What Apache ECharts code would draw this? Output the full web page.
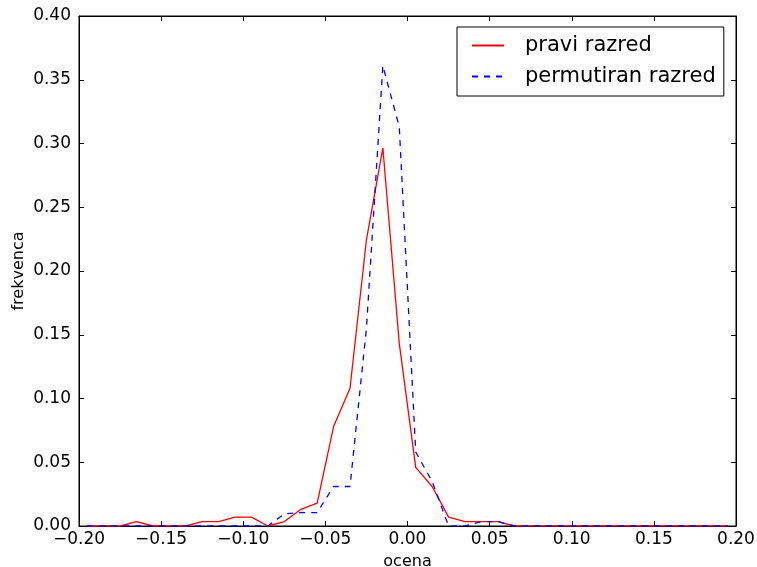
<!DOCTYPE html>
<html>
<head>
<meta charset="utf-8">
<script src="https://cdn.jsdelivr.net/npm/echarts@6/dist/echarts.min.js"></script>
<style>html,body{margin:0;padding:0;background:#fff;}#c{width:757px;height:567px;}</style>
</head>
<body>
<div id="c"></div>
<script>
// bin centres (ocena)
var binCenters = [-0.195,-0.185,-0.175,-0.165,-0.155,-0.145,-0.135,-0.125,-0.115,-0.105,
  -0.095,-0.085,-0.075,-0.065,-0.055,-0.045,-0.035,-0.025,-0.015,-0.005,
  0.005,0.015,0.025,0.035,0.045,0.055,0.065,0.075,0.085,0.095,
  0.105,0.115,0.125,0.135,0.145,0.155,0.165,0.175,0.185,0.195];
var praviRazred = [0,0,0,0.0035,0,0,0,0.0035,0.0035,0.007,
  0.007,0,0.0035,0.013,0.018,0.078,0.108,0.2245,0.2965,0.143,
  0.046,0.031,0.007,0.0035,0.0035,0.0035,0,0,0,0,
  0,0,0,0,0,0,0,0,0,0];
var permutiranRazred = [0,0,0,0,0,0,0,0,0,0,
  0,0,0.0095,0.0105,0.0105,0.031,0.031,0.155,0.361,0.313,
  0.058,0.035,0,0,0.0035,0.0035,0,0,0,0,
  0,0,0,0,0,0,0,0,0,0];
var seriesNames = ['pravi razred', 'permutiran razred'];
var xTicks = {min:-0.2, max:0.2, interval:0.05};
var yTicks = {min:0, max:0.4, interval:0.05};

function pairs(xs, ys){ return xs.map(function(x,i){ return [x, ys[i]]; }); }
function fmt(v){ var s = Math.abs(v).toFixed(2); return (v < -1e-9 ? '\u2212' : '') + s; }

var font = 'DejaVu Sans';
var chart = echarts.init(document.getElementById('c'), null, {renderer:'canvas'});
function axisCommon(){
  return {
    axisLine:{show:true, onZero:false, lineStyle:{color:'#000', width:1}},
    axisTick:{show:true, inside:true, length:5, lineStyle:{color:'#000', width:1}},
    splitLine:{show:false}
  };
}
chart.setOption({
  animation:false,
  backgroundColor:'#fff',
  grid:{left:79, right:21, top:16, bottom:41, show:true, borderColor:'#000', borderWidth:1,
    containLabel:false, outerBoundsMode:'none'},
  legend:{
    orient:'vertical', left:457, top:27,
    data:seriesNames,
    backgroundColor:'#fff', borderColor:'#000', borderWidth:1, borderRadius:0,
    padding:[8,8,9,14], itemGap:10, itemWidth:32, itemHeight:20,
    itemStyle:{opacity:0},
    textStyle:{fontFamily:font, fontSize:21, color:'#000', padding:[0,0,0,16]}
  },
  xAxis:[
    Object.assign(axisCommon(), {type:'value', min:xTicks.min, max:xTicks.max, interval:xTicks.interval,
      name:'ocena', nameLocation:'middle', nameGap:28,
      nameTextStyle:{fontFamily:font, fontSize:16, color:'#000'},
      axisLabel:{fontFamily:font, fontSize:17, color:'#000', margin:5, formatter:fmt}}),
    Object.assign(axisCommon(), {type:'value', position:'top', min:xTicks.min, max:xTicks.max, interval:xTicks.interval,
      axisLabel:{show:false}})
  ],
  yAxis:[
    Object.assign(axisCommon(), {type:'value', min:yTicks.min, max:yTicks.max, interval:yTicks.interval,
      name:'frekvenca', nameLocation:'middle', nameGap:52, nameMoveOverlap:false,
      nameTextStyle:{fontFamily:font, fontSize:16, color:'#000'},
      axisLabel:{fontFamily:font, fontSize:17, color:'#000', margin:8, formatter:function(v){return v.toFixed(2);}}}),
    Object.assign(axisCommon(), {type:'value', position:'right', min:yTicks.min, max:yTicks.max, interval:yTicks.interval,
      axisLabel:{show:false}})
  ],
  series:[
    {name:seriesNames[0], type:'line', data:pairs(binCenters, praviRazred), symbol:'none', showSymbol:false,
      lineStyle:{color:'#ff0000', width:1.3}, itemStyle:{color:'#ff0000'}, z:2},
    {name:seriesNames[1], type:'line', data:pairs(binCenters, permutiranRazred), symbol:'none', showSymbol:false,
      lineStyle:{color:'#0000ff', width:1.3, type:[6,6]}, itemStyle:{color:'#0000ff'}, z:3}
  ]
});
</script>
</body>
</html>
